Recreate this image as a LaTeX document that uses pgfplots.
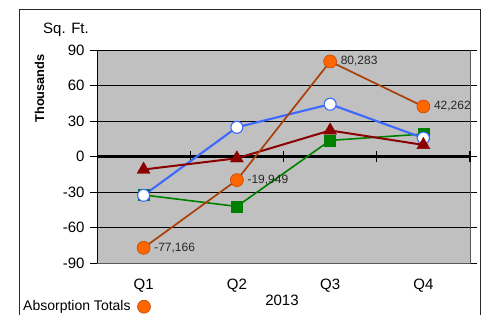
\documentclass[border=0pt]{standalone}
\usepackage{pgfplots}
\pgfplotsset{compat=1.18}
\usepackage{pgfplotstable}
\usepackage{fontspec}
\setmainfont{Liberation Sans}
\definecolor{plotgray}{RGB}{192,192,192}
\definecolor{orgfill}{RGB}{255,102,0}
\definecolor{orgedge}{RGB}{200,70,0}
\definecolor{orgline}{RGB}{168,64,8}
\definecolor{blueline}{RGB}{60,105,255}
\definecolor{dred}{RGB}{139,0,0}
\definecolor{dgreen}{RGB}{0,128,0}

\pgfplotstableread{
x y
1 -77.166
2 -19.949
3 80.283
4 42.262
}\absorb
\pgfplotstableread{
x y
1 -32.8
2 24.7
3 44.2
4 15.6
}\blueser
\pgfplotstableread{
x y
1 -11
2 -1.5
3 22
4 9.8
}\redser
\pgfplotstableread{
x y
1 -32.5
2 -42.2
3 13.6
4 19.0
}\greenser

\begin{document}
\begin{tikzpicture}[x=1pt,y=1pt]
\path[use as bounding box] (0,0) rectangle (488,314);
\draw[line width=1pt, black!85] (19,-10) -- (19,304) -- (480,304) -- (480,-10);
\node[font=\fontsize{15}{15}\selectfont] at (66,284) {Sq. Ft.};
\node[font=\bfseries\fontsize{12.8}{12.8}\selectfont, rotate=90] at (39.5,225.5) {Thousands};
\node[font=\fontsize{15}{15}\selectfont] at (282,14) {2013};
\node[font=\fontsize{14}{14}\selectfont, anchor=west, inner sep=0pt] at (23,7.5) {Absorption Totals};
\filldraw[fill=orgfill, draw=orgedge, line width=0.6pt] (144,7.3) circle (6.5);
\begin{axis}[
  at={(97pt,51pt)}, anchor=south west,
  scale only axis, width=373pt, height=213pt,
  xmin=0.5, xmax=4.5, ymin=-90, ymax=90,
  xtick={1,2,3,4}, xticklabels={Q1,Q2,Q3,Q4},
  ytick={-90,-60,-30,0,30,60,90},
  yticklabels={-90,-60,-30,0,30,60,90},
  major x tick style={draw=none},
  ytick style={black, line width=0.9pt},
  tick align=outside,
  major tick length=7pt,
  axis background/.style={fill=plotgray},
  ymajorgrids,
  grid style={black, line width=0.9pt},
  axis line style={draw=none},
  ticklabel style={font=\fontsize{15}{15}\selectfont},
  xticklabel style={yshift=-5pt},
  yticklabel style={xshift=-2pt},
  clip=false,
]
\draw[gray!70!black, line width=1pt] (axis cs:0.5,-90) -- (axis cs:4.5,-90) -- (axis cs:4.5,90);
\draw[black, line width=1pt] (axis cs:0.5,-90) -- (axis cs:0.5,90);
\draw[black, line width=2.4pt] (axis cs:0.5,0) -- (axis cs:4.5,0);
\pgfplotsinvokeforeach{1.5,2.5,3.5,4.5}{
  \draw[black, line width=1.4pt] (axis cs:#1,-4.8) -- (axis cs:#1,4.8);
}
\addplot[dgreen, line width=1.6pt, mark=square*, mark size=5.5pt, mark options={fill=dgreen, draw=dgreen, line width=0.4pt}] table[x=x,y=y] {\greenser};
\addplot[blueline, line width=2.1pt, mark=*, mark size=6pt, mark options={fill=white, draw=blueline, line width=1.1pt}] table[x=x,y=y] {\blueser};
\addplot[dred, line width=2pt, mark=triangle*, mark size=7.5pt, mark options={fill=dred, draw=dred, line width=0.4pt}] table[x=x,y=y] {\redser};
\addplot[orgline, line width=1.7pt, mark=*, mark size=6.5pt, mark options={fill=orgfill, draw=orgedge, line width=0.6pt},
  point meta={y*1000},
  nodes near coords={\pgfmathprintnumber[fixed, precision=0, 1000 sep={,}, assume math mode=true]{\pgfplotspointmeta}},
  every node near coord/.append style={anchor=west, xshift=7pt, text=black!85, font=\fontsize{12}{12}\selectfont}
] table[x=x,y=y] {\absorb};
\end{axis}
\end{tikzpicture}
\end{document}
